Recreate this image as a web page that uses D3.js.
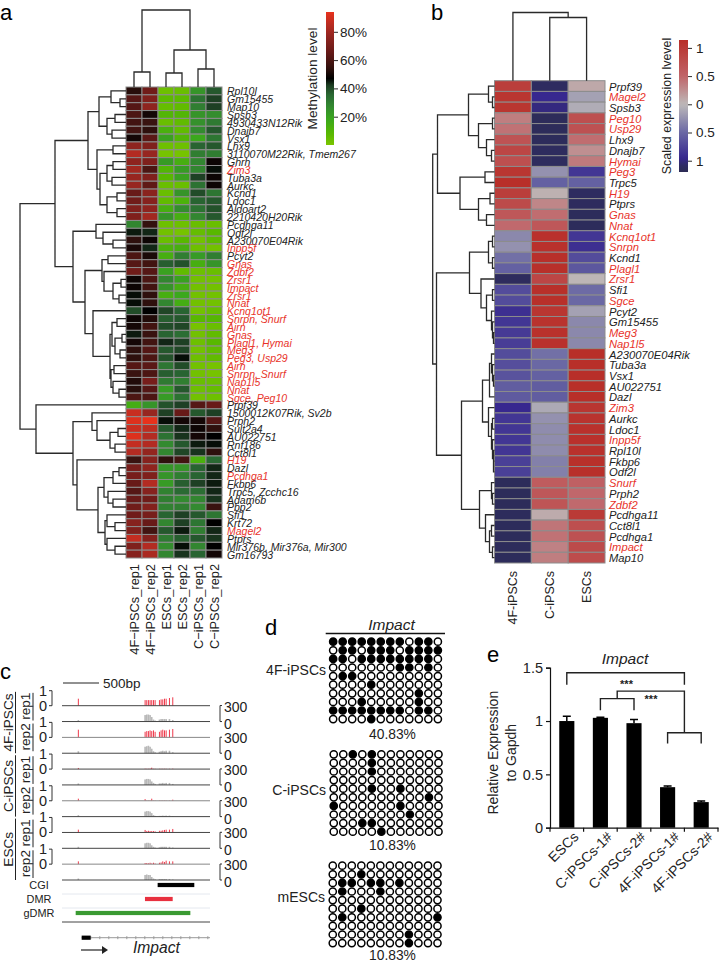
<!DOCTYPE html>
<meta charset="utf-8">
<style>
    html, body { margin: 0; padding: 0; background: #fff; }
    svg { display: block; }
    text { font-family: "Liberation Sans", Arial, sans-serif; fill: #222; }
</style>
<svg width="719" height="963"></svg>
<script src="https://cdnjs.cloudflare.com/ajax/libs/d3/7.8.5/d3.min.js"></script>
<script>

// ---- panel a data
var genesA = ["Rpl10l","Gm15455","Map10","Spsb3","4930433N12Rik","Dnajb7","Vsx1","Lhx9","3110070M22Rik, Tmem267","Ghrh",
    "Zim3","Tuba3a","Aurkc","Kcnd1","Ldoc1","Aldoart2","2210420H20Rik","Pcdhga11","Odf2l","A230070E04Rik",
    "Inpp5f","Pcyt2","Gnas","Zdbf2","Zrsr1","Impact","Zrsr1","Nnat","Kcnq1ot1","Snrpn, Snurf",
    "Airn","Gnas","Plagl1, Hymai","Meg3","Peg3, Usp29","Airn","Snrpn, Snurf","Nap1l5","Nnat","Sgce, Peg10",
    "Prpf39","1500012K07Rik, Sv2b","Prph2","Sult2a4","AU022751","Rnf186","Cct8l1","H19","Dazl","Pcdhga1",
    "Fkbp6","Trpc5, Zcchc16","Adam6b","Pbp2","Sfi1","Krt72","Magel2","Ptprs","Mir376b, Mir376a, Mir300","Gm16793"];
var redA = ["Zim3","Inpp5f","Gnas","Zdbf2","Zrsr1","Impact","Nnat","Kcnq1ot1","Snrpn, Snurf","Airn","Plagl1, Hymai","Meg3",
    "Peg3, Usp29","Nap1l5","Sgce, Peg10","H19","Pcdhga1","Magel2"];
var samplesA = ["4F\u2212iPSCs_rep1","4F\u2212iPSCs_rep2","ESCs_rep1","ESCs_rep2","C\u2212iPSCs_rep1","C\u2212iPSCs_rep2"];
var methylation = [
    [53,68,3,4,24,38],[62,72,7,7,33,42],[62,76,5,6,30,42],[60,50,10,10,24,26],[58,56,4,6,25,31],[58,54,13,6,27,38],
    [50,63,20,10,18,32],[76,72,3,3,36,38],[84,78,1,1,30,30],[76,72,22,14,28,49],[80,60,10,22,28,46],[78,72,8,20,42,49],
    [78,64,4,4,33,49],[66,75,4,24,40,32],[68,74,6,12,36,38],[72,76,14,26,33,39],[72,80,24,14,28,38],[28,55,3,3,4,4],
    [45,44,2,1,5,8],[54,49,4,8,2,7],[51,44,12,14,3,2],[60,51,14,30,22,30],[62,58,37,39,14,24],[68,62,20,6,3,4],
    [49,60,28,20,2,2],[49,58,24,14,2,2],[46,54,14,18,2,2],[46,54,28,15,2,2],[40,47,41,36,2,5],[49,52,37,38,8,9],
    [50,58,40,41,1,4],[45,56,36,34,2,6],[50,58,44,42,3,8],[54,62,38,41,2,6],[54,60,39,46,3,6],[62,63,32,40,2,1],
    [56,60,37,36,2,1],[52,70,31,30,4,4],[53,62,22,38,3,5],[60,60,22,33,2,3],[15,24,39,42,62,66],[88,78,42,66,38,42],
    [92,94,46,50,50,62],[88,86,38,44,49,54],[92,84,33,43,50,47],[87,84,27,38,45,46],[84,77,28,41,43,54],[56,74,54,58,13,35],
    [70,76,24,24,36,44],[70,72,24,30,36,44],[66,84,22,37,42,45],[62,74,29,35,34,44],[66,68,30,27,28,43],[68,73,29,30,27,56],
    [68,70,36,42,38,32],[74,66,28,42,32,47],[72,58,38,45,30,44],[87,73,31,37,38,43],[72,84,26,46,28,47],[74,82,28,43,36,50]];
// trees are [height, child, child], a plain number is a row/column index
var rowTreeA = [106,
    [71,
        [38,
            [27, [15, 0, [6, 1, 2]], [19, [11, 3, 4], [14, 5, 6]]],
            [29, [13, 7, 8], [26, [19, [13, 9, 10], [14, 11, 12]], [19, [9, 13, 14], [9, 15, 16]]]]],
        [53,
            [30, 17, [23, 18, [13, 19, 20]]],
            [41,
                [24, [18, 21, 22], [22, 23, [13, [5, 24, 25], [7, 26, 27]]]],
                [33, 28, [16, [14, [9, 29, 30], [11, [4, 31, 32], [6, 33, 34]]], [15, [12, 35, 36], [13, 37, [7, 38, 39]]]]]]]],
    [90, 40,
        [53,
            [34, 41, [29, 42, [16, [8, 43, 44], [11, 45, 46]]]],
            [49, 47, [28,
                [22, [13, [7, 48, 49], 50], [18, 51, [13, 52, 53]]],
                [21, [19, 54, [11, 55, 56]], [19, 57, [11, 58, 59]]]]]]]];
var colTreeA = [77, [15, 0, 1], [37, [14, 2, 3], [18, 4, 5]]];
var methTicks = [20, 40, 60, 80];

// ---- panel b data
var genesB = ["Prpf39","Magel2","Spsb3","Peg10","Usp29","Lhx9","Dnajb7","Hymai","Peg3","Trpc5","H19","Ptprs","Gnas","Nnat","Kcnq1ot1",
    "Snrpn","Kcnd1","Plagl1","Zrsr1","Sfi1","Sgce","Pcyt2","Gm15455","Meg3","Nap1l5","A230070E04Rik","Tuba3a","Vsx1","AU022751","Dazl",
    "Zim3","Aurkc","Ldoc1","Inpp5f","Rpl10l","Fkbp6","Odf2l","Snurf","Prph2","Zdbf2","Pcdhga11","Cct8l1","Pcdhga1","Impact","Map10"];
var redB = ["Magel2","Peg10","Usp29","Hymai","Peg3","H19","Gnas","Nnat","Kcnq1ot1","Snrpn","Plagl1","Zrsr1","Sgce","Meg3","Nap1l5",
    "Zim3","Inpp5f","Snurf","Zdbf2","Impact"];
var samplesB = ["4F-iPSCs","C-iPSCs","ESCs"];
var expression = [
    [0.95,-1.1,0.1],[1.05,-0.95,-0.15],[1.05,-1.0,-0.08],[0.35,-1.15,0.75],[0.42,-1.15,0.72],[0.7,-1.14,0.45],[0.85,-1.12,0.25],
    [0.75,-1.12,0.37],[1.05,-0.25,-0.85],[1.13,-0.55,-0.55],[0.95,0.05,-1.1],[0.8,0.3,-1.12],[0.65,0.45,-1.14],[0.47,0.65,-1.14],
    [-0.3,1.1,-0.85],[-0.25,1.1,-0.9],[-0.45,1.12,-0.7],[-0.55,1.12,-0.62],[-1.12,0.85,0.02],[-0.7,1.12,-0.48],[-0.7,1.12,-0.5],
    [-0.9,1.05,-0.15],[-0.85,1.08,-0.3],[-0.82,1.1,-0.3],[-0.8,1.1,-0.3],[-0.7,-0.45,1.13],[-0.68,-0.5,1.13],[-0.65,-0.55,1.13],
    [-0.58,-0.58,1.13],[-0.6,-0.58,1.13],[-0.95,-0.1,1.05],[-0.85,-0.25,1.08],[-0.85,-0.28,1.1],[-0.85,-0.28,1.1],[-0.85,-0.28,1.1],
    [-0.78,-0.35,1.12],[-0.78,-0.35,1.12],[-1.15,0.6,0.55],[-1.15,0.65,0.48],[-1.15,0.68,0.47],[-1.13,0.08,1.0],[-1.14,0.4,0.75],
    [-1.14,0.42,0.72],[-1.14,0.33,0.8],[-1.14,0.35,0.78]];
var rowTreeB = [61.8,
    [57,
        [26, [6, 0, [2, 1, 2]], [16, [2, 3, 4], [8, 5, [3, 6, 7]]]],
        [34.5, [9.5, 8, 9], [16, [4.5, 10, 11], [8, 12, 13]]]],
    [58,
        [25, [6, [2, 14, 15], [2, 16, 17]], [13.5, 18, [8, [2, 19, 20], [3, 21, [2, 22, [1, 23, 24]]]]]],
        [33,
            [12, [5, [3, 25, [2, 26, [1, 27, 28]]], 29], [6, 30, [3, [2, 31, 32], [2, 33, [1, 34, [1, 35, 36]]]]]],
            [15, [3, 37, [2, 38, 39]], [9, 40, [5, [3, 41, 42], [2, 43, 44]]]]]]];
var colTreeB = [68, 0, [63, 1, 2]];
var exprTicks = [-1, -0.5, 0, 0.5, 1];

// ---- panel c data
var cpgPos = [227, 1154, 1177, 1200, 1223, 1246, 1270, 1293, 1353, 1376, 1399, 1423, 1446, 1492, 1538];
var methTracks = [
    [0.5, 0.4, 0.4, 0.4, 0.4, 0.4, 0.4, 0.4, 0.4, 0.45, 0.45, 0.5, 0.5, 0.55, 0.6],
    [0.55, 0.4, 0.45, 0.45, 0.5, 0.45, 0.5, 0.4, 0.4, 0.5, 0.55, 0.5, 0.5, 0.55, 0.6],
    [0.08, 0.03, 0.02, 0.02, 0.03, 0.1, 0.02, 0.02, 0.02, 0.02, 0.02, 0.02, 0.02, 0.02, 0.03],
    [0.15, 0.12, 0.02, 0.02, 0.03, 0.15, 0.02, 0.02, 0.02, 0.02, 0.02, 0.02, 0.02, 0.02, 0.08],
    [0.2, 0.18, 0.1, 0.12, 0.1, 0.1, 0.1, 0.08, 0.12, 0.12, 0.15, 0.18, 0.2, 0.2, 0.25],
    [0.2, 0.08, 0.08, 0.06, 0.1, 0.05, 0.1, 0.05, 0.1, 0.12, 0.2, 0.15, 0.25, 0.2, 0.2]];
var covTracks = [
    [30, 130, 140, 140, 130, 90, 40, 20, 40, 50, 50, 50, 50, 50, 30],
    [40, 130, 140, 150, 130, 90, 40, 20, 30, 40, 50, 40, 50, 50, 20],
    [30, 110, 120, 120, 110, 70, 40, 20, 30, 30, 40, 30, 40, 40, 20],
    [30, 100, 110, 110, 100, 70, 30, 15, 15, 15, 20, 15, 20, 20, 10],
    [30, 100, 110, 110, 100, 60, 30, 15, 20, 30, 30, 30, 30, 30, 15],
    [30, 100, 110, 100, 100, 60, 30, 15, 20, 20, 20, 20, 20, 20, 10]];
var trackGroups = [
    {name: "4F-iPSCs", reps: ["rep1", "rep2"]},
    {name: "C-iPSCs", reps: ["rep1", "rep2"]},
    {name: "ESCs", reps: ["rep1", "rep2"]}];
var regions = [
    {name: "CGI", from: 1328, to: 1837, color: "#000"},
    {name: "DMR", from: 1152, to: 1537, color: "#e8303f"},
    {name: "gDMR", from: 190, to: 1782, color: "#3a9a32"}];

// ---- panel d data
var bisulfite = [
    {name: "4F-iPSCs", pct: "40.83%", calls: ["111111110110","011011101111","110111111110","000000011010","011000000000",
        "000010000000","000000000100","000100000100","111111110110","000010000000"]},
    {name: "C-iPSCs", pct: "10.83%", calls: ["001010000000","000010000000","000010000000","000000000000","000010010000",
        "000000000010","100000010000","000000001000","000110000000","000001000000"]},
    {name: "mESCs", pct: "10.83%", calls: ["000000000000","000100000000","011011010000","010001000000","000000000000",
        "000100000000","010000000001","000000000000","000000001000","000000001000"]}];

// ---- panel e data
var qpcrNames = ["ESCs", "C-iPSCs-1#", "C-iPSCs-2#", "4F-iPSCs-1#", "4F-iPSCs-2#"];
var qpcrValues = [1.0, 1.03, 0.98, 0.38, 0.24];
var qpcrErrors = [0.045, 0.005, 0.035, 0.01, 0.01];
var qpcrTicks = [0, 0.5, 1, 1.5];

var svg = d3.select("svg");
var redText = "#e8332a", gridGrey = "#8c8c8c", inkDark = "#2a2a2a";

// ---- colour scales
var methColor = d3.scaleLinear()
    .domain([0, 8, 18, 27, 35, 42, 47, 55, 66, 76, 85, 94])
    .range(["#7ac400", "#58b800", "#3ba81c", "#338a30", "#2a6a33", "#1e4024", "#000000", "#34120f", "#681a18", "#8e241f", "#b82c22", "#e8321c"]);
var exprColor = d3.scaleLinear()
    .domain([-1.2, -1.1, -0.95, -0.5, 0, 0.5, 1.14])
    .range(["#2c2b54", "#2e2c60", "#37288f", "#6a68a4", "#bdb9b9", "#c06468", "#b82e28"]);

// draws merge lines of a tree; leaf(i) gives the pixel along the leaf axis, h the pixel for a height
function drawTree(g, tree, leaf, h, horizontal) {
    var pieces = [];
    function walk(n) {
        if (typeof n === "number") return {p: leaf(n), h: 0};
        var a = walk(n[1]), b = walk(n[2]), at = h(n[0]);
        if (horizontal) {
            pieces.push("M" + h(a.h) + "," + a.p + "H" + at + "V" + b.p + "H" + h(b.h));
        } else {
            pieces.push("M" + a.p + "," + h(a.h) + "V" + at + "H" + b.p + "V" + h(b.h));
        }
        return {p: (a.p + b.p) / 2, h: n[0]};
    }
    walk(tree);
    g.append("path").attr("d", pieces.join("")).attr("fill", "none")
        .attr("stroke", inkDark).attr("stroke-width", 1.3);
}

function drawHeat(opt) {
    var x = d3.scaleBand().domain(d3.range(opt.samples.length)).range(opt.xr);
    var y = d3.scaleBand().domain(d3.range(opt.genes.length)).range(opt.yr);
    var g = svg.append("g");

    opt.values.forEach(function(row, i) {
        g.selectAll(null).data(row).enter().append("rect")
            .attr("x", function(d, j) { return x(j); })
            .attr("y", y(i))
            .attr("width", x.bandwidth())
            .attr("height", y.bandwidth())
            .attr("fill", function(d) { return opt.color(d); })
            .attr("stroke", gridGrey).attr("stroke-width", 1);
    });

    g.selectAll(null).data(opt.genes).enter().append("text")
        .attr("x", opt.xr[1] + opt.labelGap)
        .attr("y", function(d, i) { return y(i) + y.bandwidth() / 2 + opt.labelDy; })
        .attr("font-size", opt.labelSize).attr("font-style", "italic")
        .style("fill", function(d) { return opt.red.indexOf(d) >= 0 ? redText : "#222"; })
        .text(function(d) { return d; });

    g.selectAll(null).data(opt.samples).enter().append("text")
        .attr("transform", function(d, i) { return "translate(" + (x(i) + x.bandwidth() / 2 + opt.colDx) + "," + (opt.yr[1] + opt.colGap) + ") rotate(-90)"; })
        .attr("text-anchor", "end")
        .attr("font-size", opt.colSize)
        .text(function(d) { return d; });

    var rowH = d3.scaleLinear().domain([0, opt.rowTree[0]]).range([opt.xr[0], opt.rowRootX]);
    drawTree(g, opt.rowTree, function(i) { return y(i) + y.bandwidth() / 2; }, rowH, true);
    var colH = d3.scaleLinear().domain([0, opt.colTree[0]]).range([opt.yr[0], opt.colRootY]);
    drawTree(g, opt.colTree, function(i) { return x(i) + x.bandwidth() / 2; }, colH, false);
}

function drawLegend(id, scale, color, x, w, ticks, fmt, title, titleX, titleSize, pad) {
    var dom = scale.domain();
    var grad = svg.append("defs").append("linearGradient").attr("id", id)
        .attr("x1", 0).attr("x2", 0).attr("y1", 1).attr("y2", 0);
    d3.range(0, 41).forEach(function(k) {
        var v = dom[0] + (dom[1] - dom[0]) * k / 40;
        grad.append("stop").attr("offset", (k / 40 * 100) + "%").attr("stop-color", color(v));
    });
    var r = scale.range();
    svg.append("rect").attr("x", x).attr("y", r[1]).attr("width", w).attr("height", r[0] - r[1])
        .attr("fill", "url(#" + id + ")");
    var ax = svg.append("g").attr("transform", "translate(" + (x + w) + ",0)")
        .call(d3.axisRight(scale).tickValues(ticks).tickFormat(fmt).tickSize(4).tickPadding(pad));
    ax.select(".domain").remove();
    ax.selectAll("text").attr("font-size", 13.5).style("font-family", '"Liberation Sans", Arial, sans-serif');
    ax.selectAll("line").attr("stroke", inkDark);
    svg.append("text")
        .attr("transform", "translate(" + titleX + "," + ((r[0] + r[1]) / 2) + ") rotate(-90)")
        .attr("text-anchor", "middle").attr("dy", "0.35em")
        .attr("font-size", titleSize).text(title);
}

function panelLetter(s, x, y) {
    svg.append("text").attr("x", x).attr("y", y).attr("font-size", 22).style("fill", "#000").text(s);
}

// ---- a
panelLetter("a", 0, 20);
drawHeat({
    samples: samplesA, genes: genesA, values: methylation, color: methColor, red: redA,
    xr: [126, 222], yr: [87, 558], labelGap: 5, labelDy: 4.5, labelSize: 10.5,
    colDx: 4.5, colGap: 6, colSize: 12.8, rowTree: rowTreeA, rowRootX: 20, colTree: colTreeA, colRootY: 10
});
drawLegend("methGrad", d3.scaleLinear().domain([0, 94]).range([145, 12]), methColor, 326, 8,
    methTicks, function(d) { return d + "%"; }, "Methylation level", 312, 13.7, 2);

// ---- b
panelLetter("b", 431, 20);
drawHeat({
    samples: samplesB, genes: genesB, values: expression, color: exprColor, red: redB,
    xr: [494.5, 605], yr: [80.7, 563], labelGap: 4, labelDy: 4.5, labelSize: 11.2,
    colDx: 4.5, colGap: 8, colSize: 12.5, rowTree: rowTreeB, rowRootX: 432.7, colTree: colTreeB, colRootY: 12.5
});
drawLegend("exprGrad", d3.scaleLinear().domain([-1.2, 1.14]).range([172, 40]), exprColor, 679, 9,
    exprTicks, function(d) { return String(Math.abs(d)); }, "Scaled expression lvevel", 667, 12.4, 4);

// ---- c
panelLetter("c", 0, 679);
var gx = d3.scaleLinear().domain([0, 2055]).range([62, 210]);
var trackY = d3.scaleBand().domain(d3.range(12)).range([689.85, 880]);
var methH = d3.scaleLinear().domain([0, 1]).range([0, 14]);
var covH = d3.scaleLinear().domain([0, 300]).range([0, 15]);
function baseline(i) { return trackY(i) + trackY.bandwidth(); }

var gc = svg.append("g");
gc.append("line").attr("x1", gx(14)).attr("x2", gx(514)).attr("y1", 683).attr("y2", 683).attr("stroke", "#222");
gc.append("text").attr("x", 103).attr("y", 688).attr("font-size", 13.5).text("500bp");

d3.range(6).forEach(function(k) {
    var mb = baseline(k * 2), cb = baseline(k * 2 + 1);
    gc.selectAll(null).data(methTracks[k]).enter().append("rect")
        .attr("x", function(d, i) { return gx(cpgPos[i]) - 0.5; })
        .attr("y", function(d) { return mb - methH(d); })
        .attr("width", 1).attr("height", function(d) { return methH(d); })
        .attr("fill", "#ee3a4c");
    gc.selectAll(null).data(covTracks[k]).enter().append("rect")
        .attr("x", function(d, i) { return gx(cpgPos[i]) - 0.8; })
        .attr("y", function(d) { return cb - covH(d); })
        .attr("width", 1.6).attr("height", function(d) { return covH(d); })
        .attr("fill", "#b8b8b8");
    [mb, cb].forEach(function(b, n) {
        gc.append("line").attr("x1", 62).attr("x2", 210).attr("y1", b).attr("y2", b)
            .attr("stroke", k % 2 && !n ? "#888" : "#444").attr("stroke-width", 1);
    });

    // left 0-1 scale of the methylation track, right 0-300 scale of the coverage track
    var left = d3.scaleLinear().domain([0, 1]).range([mb, mb - 15]);
    gc.append("path").attr("d", "M49," + left(1) + "H52V" + left(0) + "H49").attr("fill", "none").attr("stroke", "#333");
    [0, 1].forEach(function(v) {
        gc.append("text").attr("x", 43).attr("y", left(v) + 5).attr("text-anchor", "middle")
            .attr("font-size", 14.5).text(v);
    });
    var right = d3.scaleLinear().domain([0, 300]).range([cb, cb - 16]);
    gc.append("path").attr("d", "M222," + right(300) + "H220V" + right(0) + "H222").attr("fill", "none").attr("stroke", "#333");
    gc.append("text").attr("x", 224).attr("y", right(300) + 6).attr("font-size", 14).text("300");
    gc.append("text").attr("x", 224).attr("y", right(0) + 7).attr("font-size", 14).text("0");
});

trackGroups.forEach(function(grp, k) {
    var t0 = trackY(k * 4) + 2, t1 = t0 + 4 * trackY.step() - 2, mid = (t0 + t1) / 2;
    gc.append("line").attr("x1", 15.5).attr("x2", 15.5).attr("y1", t0).attr("y2", t1).attr("stroke", "#222");
    gc.append("text").attr("transform", "translate(13," + mid + ") rotate(-90)")
        .attr("text-anchor", "middle").attr("font-size", 13.6).text(grp.name);
    grp.reps.forEach(function(r, n) {
        var r0 = t0 + n * (t1 - t0) / 2, r1 = r0 + (t1 - t0) / 2;
        gc.append("line").attr("x1", 33).attr("x2", 33).attr("y1", r0 + 1).attr("y2", r1 - 2).attr("stroke", "#222");
        gc.append("text").attr("transform", "translate(30," + ((r0 + r1) / 2 - 1) + ") rotate(-90)")
            .attr("text-anchor", "middle").attr("font-size", 13.6).text(r);
    });
});

regions.forEach(function(r, i) {
    var yr = d3.scaleLinear().domain([0, 2]).range([885, 913])(i);
    gc.append("rect").attr("x", gx(r.from)).attr("y", yr - 2.1).attr("width", gx(r.to) - gx(r.from)).attr("height", 4.2).attr("fill", r.color);
    gc.append("text").attr("x", 39).attr("y", yr + 4).attr("text-anchor", "middle").attr("font-size", 10.9).text(r.name);
    if (i < 2) {
        gc.append("line").attr("x1", 62).attr("x2", 210).attr("y1", yr + 9).attr("y2", yr + 9).attr("stroke", "#e4e8ef");
    }
});
gc.append("line").attr("x1", 62).attr("x2", 210).attr("y1", 922).attr("y2", 922).attr("stroke", "#444");

// gene model
gc.append("line").attr("x1", gx(273)).attr("x2", 210).attr("y1", 937.7).attr("y2", 937.7).attr("stroke", "#999");
gc.selectAll(null).data(d3.range(400, 2050, 125)).enter().append("line")
    .attr("x1", function(d) { return gx(d); }).attr("x2", function(d) { return gx(d); })
    .attr("y1", 936.2).attr("y2", 939.2).attr("stroke", "#999");
gc.append("rect").attr("x", gx(273)).attr("y", 935.6).attr("width", gx(398) - gx(273)).attr("height", 4.2).attr("fill", "#000");
gc.append("path").attr("d", "M81,950H104").attr("stroke", "#222").attr("stroke-width", 1.2);
gc.append("path").attr("d", "M102,946L108,950L102,954Z").attr("fill", "#222");
gc.append("text").attr("x", 133).attr("y", 953).attr("font-size", 15.6).attr("font-style", "italic").text("Impact");

// ---- d
panelLetter("d", 265, 635);
var gd = svg.append("g");
gd.append("text").attr("x", 391.5).attr("y", 630).attr("text-anchor", "middle")
    .attr("font-size", 15.5).attr("font-style", "italic").text("Impact");
gd.append("line").attr("x1", 325.7).attr("x2", 445).attr("y1", 633.5).attr("y2", 633.5).attr("stroke", "#111").attr("stroke-width", 1.5);

var dotTops = [637.4, 750, 861.4], pctY = [739, 850, 960], nameY = [675, 795, 902], nameEnd = [326, 326, 325];
var dotLeft = [328.4, 329, 328];
var dotCol = d3.scaleBand().domain(d3.range(12));
var dotRow = d3.scaleBand().domain(d3.range(10));
bisulfite.forEach(function(b, k) {
    dotCol.range([dotLeft[k], dotLeft[k] + 12 * 9.52]);
    dotRow.range([dotTops[k], dotTops[k] + 10 * 8.6]);
    b.calls.forEach(function(line, r) {
        gd.selectAll(null).data(line.split("")).enter().append("circle")
            .attr("cx", function(d, c) { return dotCol(c) + dotCol.bandwidth() / 2; })
            .attr("cy", dotRow(r) + dotRow.bandwidth() / 2)
            .attr("r", 3.6)
            .attr("fill", function(d) { return d === "1" ? "#000" : "#fff"; })
            .attr("stroke", "#000").attr("stroke-width", 1.5);
    });
    gd.append("text").attr("x", nameEnd[k]).attr("y", nameY[k]).attr("text-anchor", "end").attr("font-size", 14).text(b.name);
    gd.append("text").attr("x", 392.5).attr("y", pctY[k]).attr("text-anchor", "middle").attr("font-size", 13.8).text(b.pct);
});

// ---- e
panelLetter("e", 487, 662);
var ex = d3.scaleBand().domain(qpcrNames).range([550, 718]).paddingInner(0.55).paddingOuter(0.275);
var ey = d3.scaleLinear().domain([0, 1.5]).range([827.7, 667.7]);
var ge = svg.append("g");

ge.selectAll(null).data(qpcrValues).enter().append("rect")
    .attr("x", function(d, i) { return ex(qpcrNames[i]); })
    .attr("y", function(d) { return ey(d); })
    .attr("width", ex.bandwidth())
    .attr("height", function(d) { return ey(0) - ey(d); })
    .attr("fill", "#000");
ge.selectAll(null).data(qpcrValues).enter().append("path")
    .attr("d", function(d, i) {
        var c = ex(qpcrNames[i]) + ex.bandwidth() / 2, top = ey(d + qpcrErrors[i]);
        return "M" + c + "," + ey(d) + "V" + top + "M" + (c - 4) + "," + top + "H" + (c + 4);
    })
    .attr("stroke", "#000").attr("stroke-width", 1.5).attr("fill", "none");

var yAxisE = ge.append("g").attr("transform", "translate(550,0)")
    .call(d3.axisLeft(ey).tickValues(qpcrTicks).tickFormat(function(d) { return String(d); }).tickSize(4).tickPadding(3));
yAxisE.selectAll("text").attr("font-size", 14.5).style("font-family", '"Liberation Sans", Arial, sans-serif');
yAxisE.selectAll("line,path").attr("stroke", "#111").attr("stroke-width", 1.2);

var xAxisE = ge.append("g").attr("transform", "translate(0," + ey(0) + ")")
    .call(d3.axisBottom(ex).tickSize(0).tickFormat(""));
xAxisE.selectAll("path").attr("stroke", "#111").attr("stroke-width", 1.2);
qpcrNames.concat([null]).forEach(function(n, i) {
    var at = ex.range()[0] + i * ex.step();
    ge.append("line").attr("x1", at).attr("x2", at).attr("y1", ey(0)).attr("y2", ey(0) + 4).attr("stroke", "#111").attr("stroke-width", 1.2);
});
ge.selectAll(null).data(qpcrNames).enter().append("text")
    .attr("transform", function(d) { return "translate(" + (ex(d) + ex.bandwidth() + 5) + "," + (ey(0) + 10) + ") rotate(-45)"; })
    .attr("text-anchor", "end").attr("font-size", 14).text(function(d) { return d; });

ge.append("text").attr("transform", "translate(498,752.7) rotate(-90)").attr("text-anchor", "middle").attr("font-size", 14).text("Relative Expression");
ge.append("text").attr("transform", "translate(516,752.7) rotate(-90)").attr("text-anchor", "middle").attr("font-size", 14).text("to Gapdh");
ge.append("text").attr("x", 625).attr("y", 664).attr("text-anchor", "middle").attr("font-size", 15.5).attr("font-style", "italic").text("Impact");

// significance brackets, levels are in axis units
function centre(i) { return ex(qpcrNames[i]) + ex.bandwidth() / 2; }
var midLeft = (centre(1) + centre(2)) / 2, midRight = (centre(3) + centre(4)) / 2;
var brackets = [
    [centre(0), 1.34, 1.453, midRight, 1.34],
    [midLeft, 1.21, 1.28, midRight, 0.89],
    [centre(1), 1.10, 1.21, centre(2), 1.10],
    [centre(3), 0.79, 0.89, centre(4), 0.79]];
brackets.forEach(function(b) {
    ge.append("path").attr("d", "M" + b[0] + "," + ey(b[1]) + "V" + ey(b[2]) + "H" + b[3] + "V" + ey(b[4]))
        .attr("fill", "none").attr("stroke", "#222").attr("stroke-width", 1.4);
});
[[626.5, 1.35], [651, 1.21]].forEach(function(s) {
    ge.append("text").attr("x", s[0]).attr("y", ey(s[1]) + 4).attr("text-anchor", "middle").attr("font-size", 11).attr("font-weight", "bold").text("***");
});

</script>
